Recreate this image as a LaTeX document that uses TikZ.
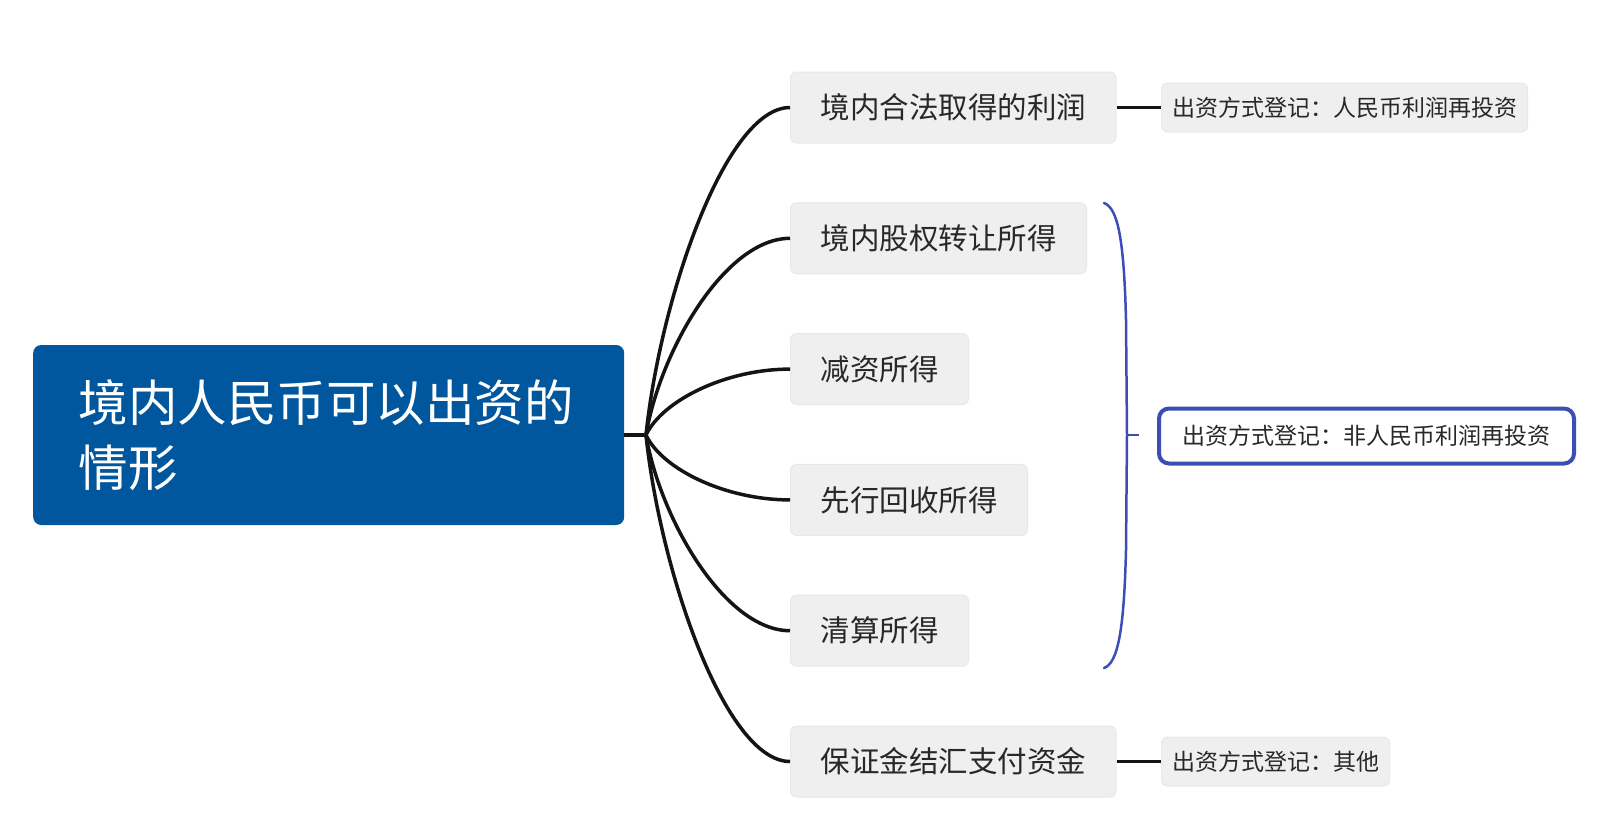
\documentclass[tikz,border=0pt]{standalone}
\usepackage{fontspec}
\newfontfamily\cjk{Noto Sans CJK SC}
\definecolor{rootblue}{RGB}{0,87,158}
\definecolor{bracketblue}{RGB}{60,78,180}
\definecolor{boxgray}{RGB}{239,239,239}
\definecolor{boxedge}{RGB}{232,232,232}
\definecolor{txtgray}{RGB}{40,40,40}
\begin{document}
\begin{tikzpicture}[x=1pt,y=-1pt,
  rootbox/.style={fill=rootblue, rounded corners=8pt, text=white,
    font=\cjk\fontsize{49.5}{65}\selectfont, align=left, text width=500pt,
    inner xsep=45.5pt, inner ysep=0pt, minimum height=180pt, anchor=west},
  branchbox/.style={fill=boxgray, draw=boxedge, line width=1pt, rounded corners=6pt,
    text=txtgray, font=\cjk\fontsize{29.5}{35}\selectfont,
    inner xsep=30pt, inner ysep=0pt, minimum height=71pt, anchor=west},
  leafbox/.style={fill=boxgray, draw=boxedge, line width=1pt, rounded corners=6pt,
    text=txtgray, font=\cjk\fontsize{23}{28}\selectfont,
    inner xsep=10.5pt, inner ysep=0pt, minimum height=49pt, anchor=west},
  blueleaf/.style={fill=white, draw=bracketblue, line width=4pt, rounded corners=10pt,
    text=txtgray, font=\cjk\fontsize{23}{28}\selectfont,
    inner xsep=23.5pt, inner ysep=0pt, minimum height=55pt, anchor=west},
  conn/.style={draw=black!92, line width=3.5pt},
  bracketline/.style={draw=bracketblue, line width=2.5pt, line cap=round}
]
\useasboundingbox (0,0) rectangle (1614,820);

\node[rootbox] (root) at (33,435) {境内人民币可以出资的\\情形};
\coordinate (J) at (646,435);

\node[branchbox] (b1) at (790,107.5) {境内合法取得的利润};
\node[branchbox] (b2) at (790,238.3) {境内股权转让所得};
\node[branchbox] (b3) at (790,369.1) {减资所得};
\node[branchbox] (b4) at (790,499.9) {先行回收所得};
\node[branchbox] (b5) at (790,630.7) {清算所得};
\node[branchbox] (b6) at (790,761.5) {保证金结汇支付资金};

\node[leafbox] (l1) at (1161,107.5) {出资方式登记：人民币利润再投资};
\node[leafbox] (l6) at (1161,761.5) {出资方式登记：其他};
\node[blueleaf] (l2) at (1157,436) {出资方式登记：非人民币利润再投资};

\draw[conn] (root.east) -- (J);
\draw[conn] (J) .. controls +(14,-135) and +(-65,0) .. (b1.west);
\draw[conn] (J) .. controls +(14,-84) and +(-65,0) .. (b2.west);
\draw[conn] (J) .. controls +(16,-34) and +(-65,0) .. (b3.west);
\draw[conn] (J) .. controls +(16,34) and +(-65,0) .. (b4.west);
\draw[conn] (J) .. controls +(14,84) and +(-65,0) .. (b5.west);
\draw[conn] (J) .. controls +(14,135) and +(-65,0) .. (b6.west);

\draw[conn, line width=3pt] (b1.east) -- (l1.west);
\draw[conn, line width=3pt] (b6.east) -- (l6.west);

\draw[bracketline] (1104,203) .. controls (1118,208) and (1124,240) .. (1126,320)
  -- (1127,435) -- (1126,550) .. controls (1124,630) and (1118,663) .. (1104,668);
\draw[bracketline, line cap=butt] (1127,435) -- (1139,435);
\end{tikzpicture}
\end{document}
